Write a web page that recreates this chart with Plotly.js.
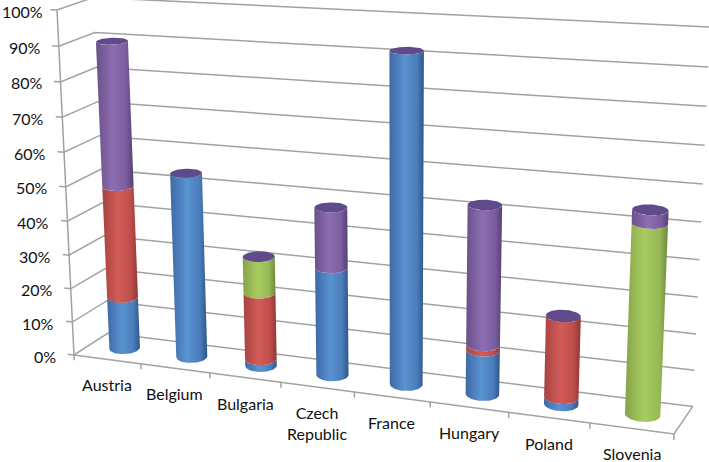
<!DOCTYPE html>
<html><head><meta charset="utf-8">
<script src="https://cdn.plot.ly/plotly-3.0.1.min.js"></script>
<style>html,body{margin:0;padding:0;background:#fff;overflow:hidden}</style></head>
<body><div id="c" style="width:709px;height:462px"></div>
<script>
const categories=["Austria","Belgium","Bulgaria","Czech<br>Republic","France","Hungary","Poland","Slovenia"];
const blue=[15.5,54,2,31,92,12.5,2,0];
const red=[33,0,19.5,0,0,1.5,22.5,0];
const green=[0,0,10.5,0,0,0,0,51.5];
const purple=[41.5,0,0,17,0,38.5,0,3.5];
const valueTicks=[0,10,20,30,40,50,60,70,80,90,100];
const seriesShades=[
 [[0,'#3d6aa3'],[.45,'#5a92d2'],[.8,'#4a7dbb'],[1,'#2f5688']],
 [[0,'#a84340'],[.45,'#d25c58'],[.8,'#bf4e4a'],[1,'#8f3634']],
 [[0,'#86a349'],[.45,'#a8cc60'],[.8,'#96b955'],[1,'#6f8a3c']],
 [[0,'#6a5088'],[.45,'#8d6eb3'],[.8,'#7b5e9e'],[1,'#564072']]];
const capColor='#5f4b8b', gridColor='#a2a2a2', textColor='#111';

// Oblique perspective of the 3-D box: (u along categories, w into depth, v up)
const O=[74,355],A=[674,434],B=[108,333],C=[57,10];
const wO=1,wA=.877,wB=1.03,wC=.95;
function P(u,w,v){
  const s=1-u-w-v, d=wO*s+wA*u+wB*w+wC*v;
  return [(wO*s*O[0]+wA*u*A[0]+wB*w*B[0]+wC*v*C[0])/d,
          (wO*s*O[1]+wA*u*A[1]+wB*w*B[1]+wC*v*C[1])/d];
}
const traces=[];
function line(pts){
  traces.push({type:'scatter',mode:'lines',x:pts.map(p=>p[0]),y:pts.map(p=>p[1]),
    line:{color:gridColor,width:1.5},hoverinfo:'skip'});
}
valueTicks.forEach(t=>{const v=t/100;
  line([P(-.012,0,v),P(0,0,v),P(0,1,v),P(1,1,v)]);
});
line([P(0,0,0),P(0,0,1)]);
line([P(0,0,0),P(1,0,0),P(1,1,0)]);
for(let i=0;i<=8;i++) line([P(i/8,0,0),P(i/8,0,-.016)]);

const N=72;
function ring(uc,v){
  const r=[];
  for(let a=0;a<N;a++){const t=2*Math.PI*a/N,c=Math.cos(t),s=Math.sin(t);
    r.push(P(uc+.0012+.0235*c+.0125*s,.5+.085*c-.227*s,v));}
  return r;
}
function frontArc(r){
  let lo=0,hi=0;
  r.forEach((p,i)=>{if(p[0]<r[lo][0])lo=i;if(p[0]>r[hi][0])hi=i;});
  const a=[],b=[];
  for(let i=lo;;i=(i+1)%N){a.push(r[i]);if(i===hi)break;}
  for(let i=lo;;i=(i-1+N)%N){b.push(r[i]);if(i===hi)break;}
  const my=q=>q.reduce((s,p)=>s+p[1],0)/q.length;
  return my(a)>my(b)?a:b;
}
categories.forEach((c,n)=>{
  const uc=(n+.5)/8;let base=0;
  [blue,red,green,purple].forEach((s,si)=>{
    if(s[n]<=0)return;
    const low=frontArc(ring(uc,base/100)),high=frontArc(ring(uc,(base+s[n])/100)).reverse();
    const poly=low.concat(high);poly.push(low[0]);
    traces.push({type:'scatter',mode:'lines',line:{width:0,color:'rgba(0,0,0,0)'},fill:'toself',
      fillgradient:{type:'horizontal',colorscale:seriesShades[si]},
      x:poly.map(p=>p[0]),y:poly.map(p=>p[1]),hoverinfo:'skip'});
    base+=s[n];
  });
  const top=ring(uc,base/100);top.push(top[0]);
  traces.push({type:'scatter',mode:'lines',line:{width:0,color:'rgba(0,0,0,0)'},fill:'toself',fillcolor:capColor,
    x:top.map(p=>p[0]),y:top.map(p=>p[1]),hoverinfo:'skip'});
});
const ann=[];
valueTicks.forEach(t=>{const p=P(0,0,t/100);
  ann.push({x:p[0],y:p[1]+1,xref:'x',yref:'y',text:t+'%',showarrow:false,xanchor:'right',yanchor:'middle',xshift:t===100?-12:-16,
    font:{family:'Lato',size:16,color:textColor}});});
categories.forEach((c,n)=>{const p=P((n+.5)/8,0,0);
  ann.push({x:p[0],y:p[1],xref:'x',yref:'y',text:c,showarrow:false,xanchor:'center',yanchor:'top',yshift:-14,
    font:{family:'Lato',size:16,color:textColor}});});
const hidden={visible:false,fixedrange:true};
Plotly.newPlot('c',traces,{width:709,height:462,margin:{l:0,r:0,t:0,b:0},paper_bgcolor:'#fff',plot_bgcolor:'#fff',showlegend:false,hovermode:false,
  xaxis:{...hidden,range:[0,709]},yaxis:{...hidden,range:[462,0]},annotations:ann},{staticPlot:true,displayModeBar:false});
</script></body></html>
